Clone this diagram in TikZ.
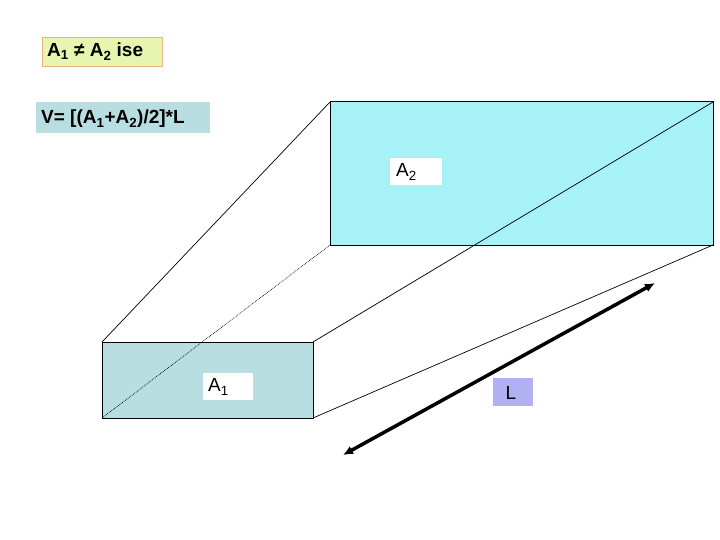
\documentclass[tikz,border=0pt]{standalone}
\usepackage{fontspec}
\setmainfont{Liberation Sans}
\usetikzlibrary{arrows.meta}
\definecolor{ylw}{HTML}{E8F5B0}
\definecolor{gry}{HTML}{B9DEE1}
\definecolor{cyn}{HTML}{A6F2F7}
\definecolor{lav}{HTML}{B0B0F2}
\tikzset{lbl/.style={inner sep=0pt,anchor=north west},
txt/.style={anchor=west,inner sep=0pt,font=\fontsize{19}{21}\selectfont},
face/.style={draw=black,line width=1pt},
edge/.style={draw=black,line width=0.7pt}}
\begin{document}
\begin{tikzpicture}[x=1pt,y=-1pt]
\useasboundingbox (0,0) rectangle (720,540);
\filldraw[face,fill=cyn] (330,102) rectangle (713,245);
\filldraw[face,fill=gry] (102,342) rectangle (313,418);
\coordinate (b1) at (330,102); \coordinate (b2) at (713,102);
\coordinate (b3) at (713,245); \coordinate (b4) at (330,245);
\coordinate (s1) at (102,342); \coordinate (s2) at (313,342);
\coordinate (s3) at (313,418); \coordinate (s4) at (102,418);
\draw[edge] (s1) -- (b1);
\draw[edge] (s2) -- (b2);
\draw[edge] (s3) -- (b3);
\draw[edge,densely dotted] (s4) -- (b4);
\node[lbl,draw=orange!50!brown!60,fill=ylw,minimum width=120pt,minimum height=29pt] (t1) at (42,37) {};
\node[txt,font=\fontsize{19}{21}\selectfont\bfseries] (t1t) at (47,51.5) {A\textsubscript{1} ≠ A\textsubscript{2} ise};
\node[lbl,fill=gry,minimum width=174pt,minimum height=31pt] (t2) at (36,102) {};
\node[txt,font=\fontsize{19}{21}\selectfont\bfseries] (t2t) at (41,119) {V= [(A\textsubscript{1}+A\textsubscript{2})/2]*L};
\node[lbl,fill=white,minimum width=52pt,minimum height=27pt] (a2) at (390,158) {};
\node[txt] at (396,172) {A\textsubscript{2}};
\node[lbl,fill=white,minimum width=50pt,minimum height=27pt] (a1) at (203,373) {};
\node[txt] at (208,387) {A\textsubscript{1}};
\node[lbl,fill=lav,minimum width=40pt,minimum height=28pt] (l) at (493,378) {};
\node[font=\fontsize{19}{21}\selectfont,inner sep=0pt] at (511,393) {L};
\coordinate (p1) at (343,455); \coordinate (p2) at (655,283);
\draw[line width=3.5pt,{Latex[length=10pt,width=9pt]}-{Latex[length=10pt,width=9pt]}] (p1) -- (p2);
\end{tikzpicture}
\end{document}
